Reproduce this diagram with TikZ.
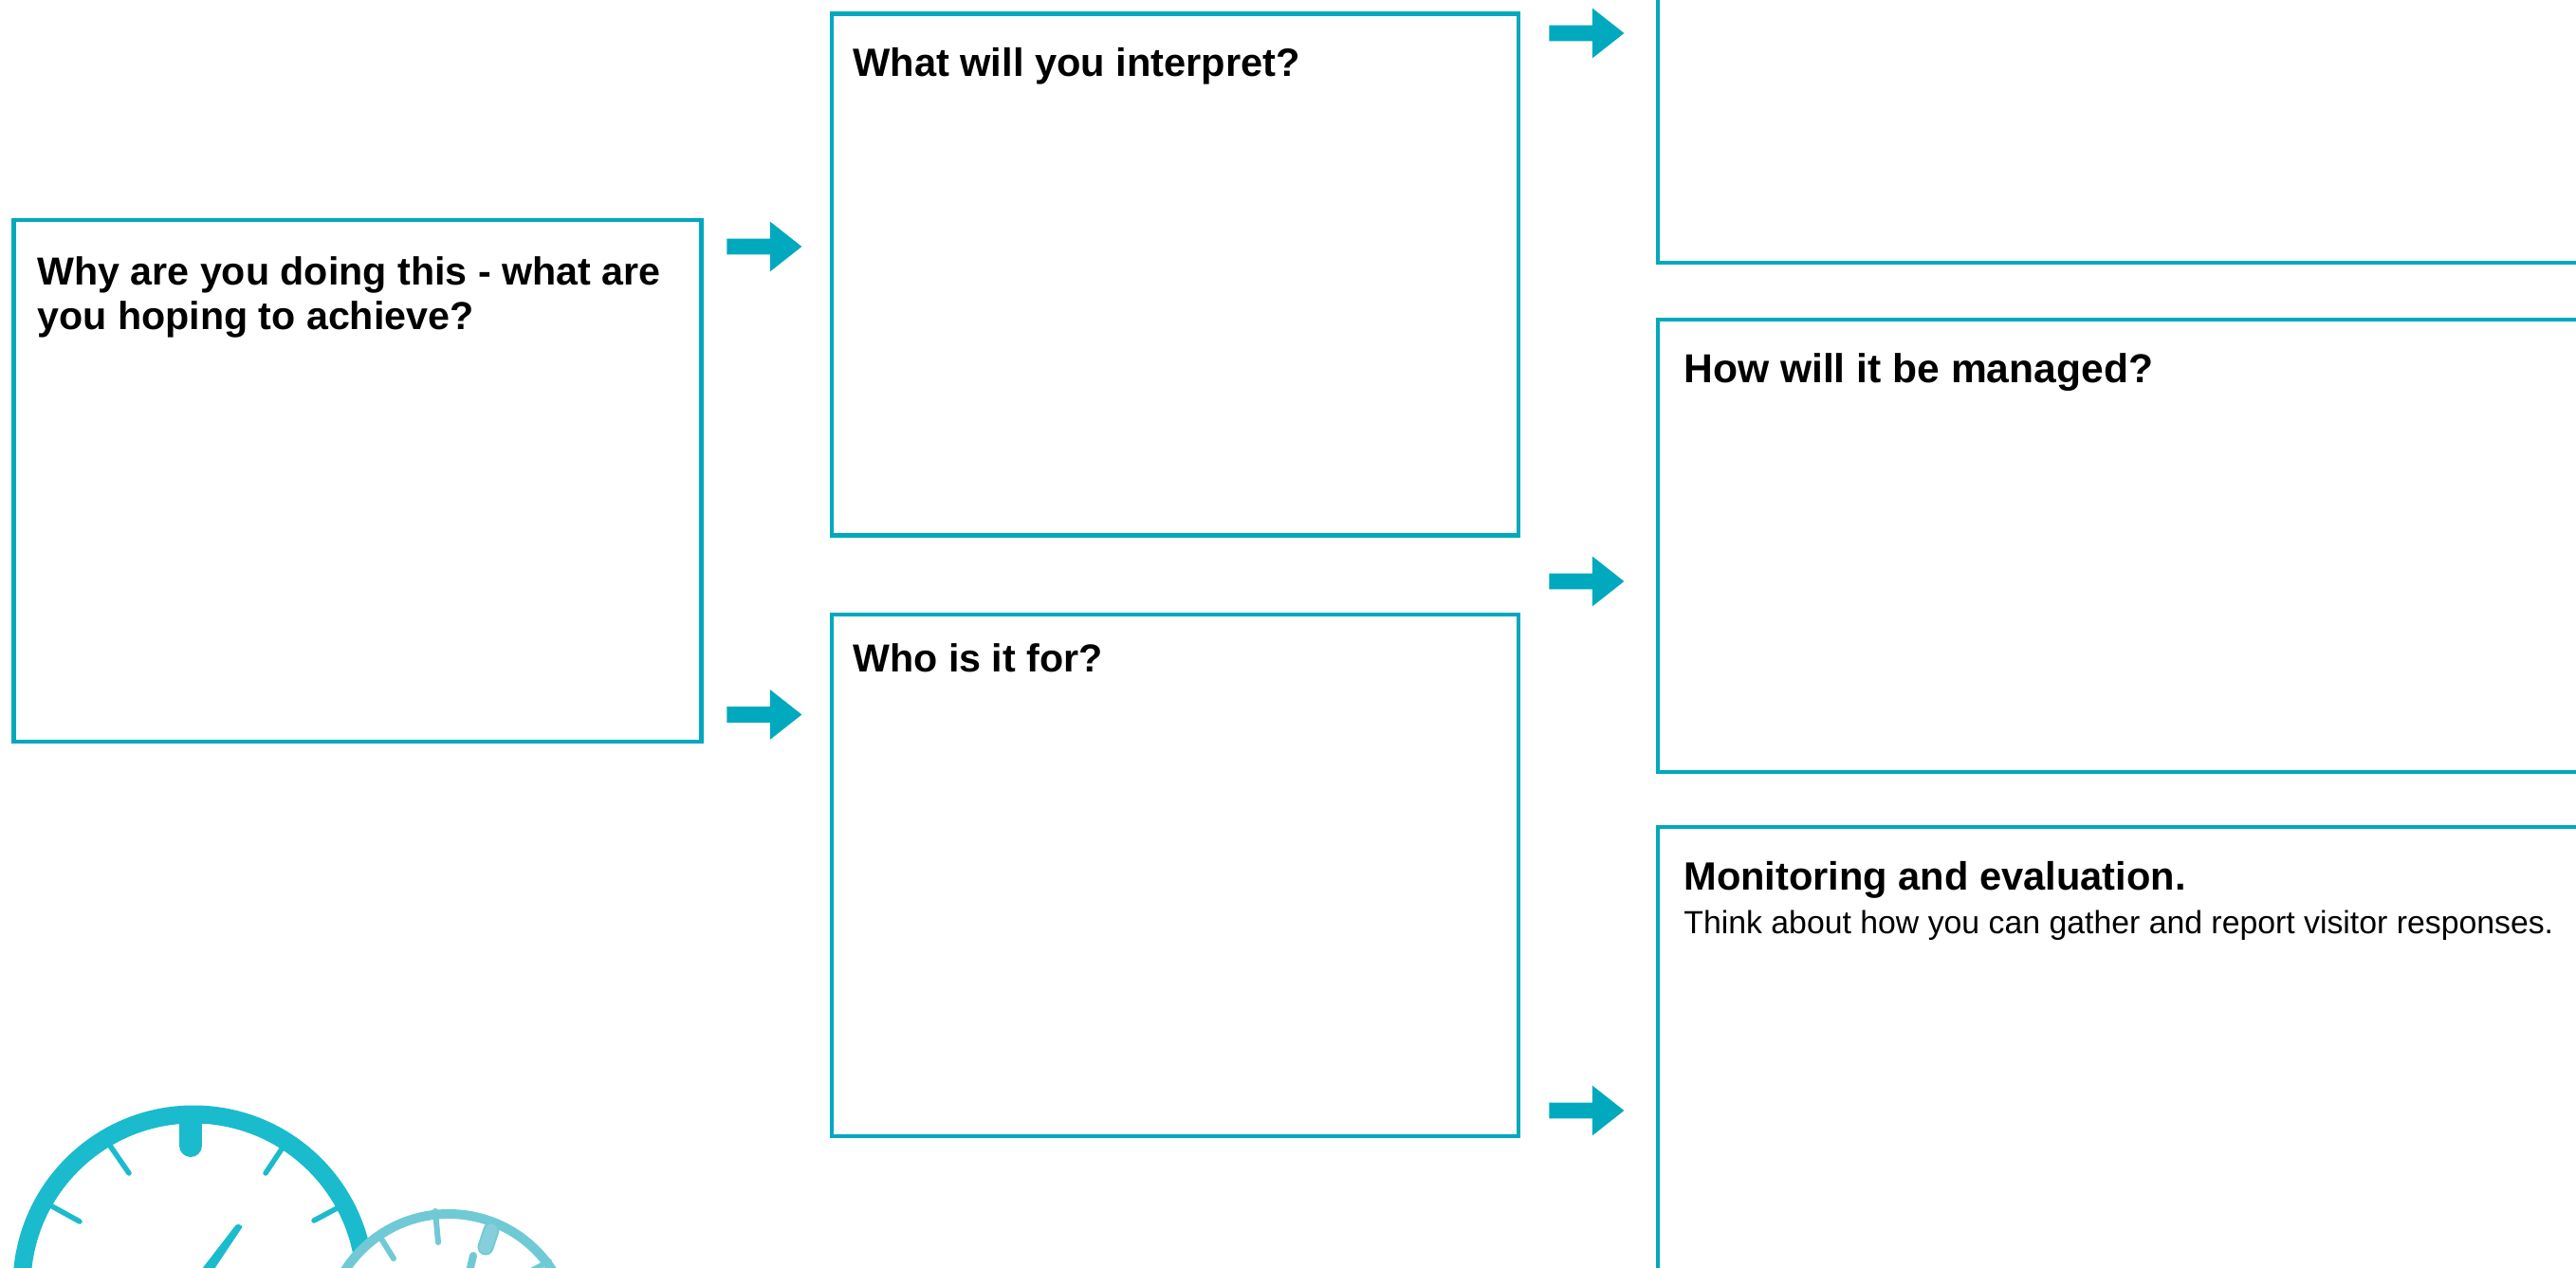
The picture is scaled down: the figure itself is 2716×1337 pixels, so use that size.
\documentclass[tikz,border=0pt]{standalone}
\usepackage{fontspec}
\setmainfont{Liberation Sans}
\usetikzlibrary{shapes.arrows}
\definecolor{panelteal}{HTML}{00A9BD}
\definecolor{dialteal}{HTML}{1ABBCC}
\definecolor{dialpale}{HTML}{70CAD6}
\definecolor{dialknob}{HTML}{85CFDB}
\tikzset{
	panel/.style={draw=panelteal, line width=2.35pt, anchor=north west, minimum width=#1, inner sep=0pt, outer sep=0pt},
	heading/.style={anchor=base west, inner sep=0pt, align=left, font=\fontsize{#1}{24}\selectfont\bfseries},
	heading/.default=20.8,
	bodytext/.style={anchor=base west, inner sep=0pt, font=\fontsize{16.9}{20}\selectfont},
	flow/.style={single arrow, fill=panelteal, minimum height=39.5pt, inner xsep=0pt, inner ysep=4pt, anchor=tip,
		single arrow head extend=9pt, single arrow tip angle=76.5},
	tick/.style={line cap=round, line width=#1},
}
\begin{document}
\begin{tikzpicture}[x=0.5pt, y=-0.5pt]
	\useasboundingbox (0,0) rectangle (2716,1337);
	\clip (0,0) rectangle (2716,1337);

	% boxes
	\node[panel=362.5pt, minimum height=275pt] (why) at (14.5,232) {};
	\node[panel=362pt, minimum height=275pt] (what) at (877,14.5) {};
	\node[panel=362pt, minimum height=275pt] (who) at (877,648) {};
	\node[panel=600pt, minimum height=240pt] (result) at (1748,-203) {};
	\node[panel=600pt, minimum height=238.5pt] (manage) at (1748,337) {};
	\node[panel=600pt, minimum height=300pt] (monitor) at (1748,872) {};

	% headings
	\node[heading=20.6] (whytext) at (39,348) {Why are you doing this - what are\\you hoping to achieve?};
	\node[heading] (whattext) at (899,81) {What will you interpret?};
	\node[heading=20.6] (whotext) at (899,708) {Who is it for?};
	\node[heading=21.3] (managetext) at (1775,403) {How will it be managed?};
	\node[heading] (monitortext) at (1775,938) {Monitoring and evaluation.};
	\node[bodytext] (monitorbody) at (1775,984) {Think about how you can gather and report visitor responses.};

	% arrows
	\foreach \n/\x/\y in {a/846/260, b/846/753.5, c/1713/35, d/1713/613, e/1713/1171} {
		\node[flow] (arrow\n) at (\x,\y) {};
	}

	% big dial
	\draw[dialteal, line width=9.5pt, fill=white] (204,1356) circle (181);
	\draw[dialteal, tick=12pt] (201,1182) -- (201,1208);
	\foreach \a/\b/\c/\d in {116/1208/136/1237, 298/1210/280/1237, 55/1272/84/1288, 359/1272/331/1287} {
		\draw[dialteal, tick=2.75pt] (\a,\b) -- (\c,\d);
	}
	\fill[dialteal, rounded corners=1pt] (250,1290) -- (256,1293) -- (214,1356) -- (199,1356) -- cycle;

	% small dial
	\draw[dialpale, line width=5pt, fill=white] (473,1410) circle (130);
	\foreach \a/\b/\c/\d in {459/1277/462/1310, 400/1303/415/1327, 579/1330/560/1340} {
		\draw[dialpale, tick=3pt] (\a,\b) -- (\c,\d);
	}
	\draw[dialpale, tick=8.5pt] (518,1297) -- (512,1315);
	\draw[dialknob, tick=6.5pt] (518,1297) -- (512,1315);
	\draw[dialpale, tick=4pt] (499,1324) -- (494,1345);
\end{tikzpicture}
\end{document}
